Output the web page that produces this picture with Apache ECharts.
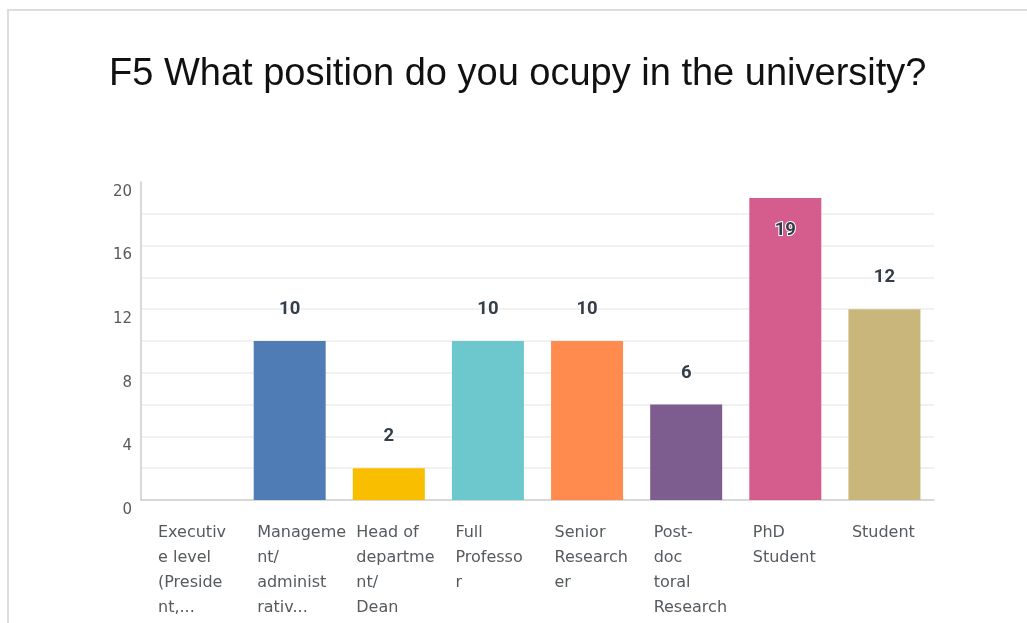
<!DOCTYPE html>
<html>
<head>
<meta charset="utf-8">
<style>
  html, body { margin: 0; padding: 0; background: #fff; }
  #chart { width: 1027px; height: 623px; }
</style>
<script src="https://cdn.jsdelivr.net/npm/echarts@6/dist/echarts.min.js"></script>
</head>
<body>
<div id="chart"></div>
<script>
// Answer options, wrapped the way they appear under each bar
const tickLabels = [
  'Executiv\ne level\n(Preside\nnt,...',
  'Manageme\nnt/\nadminist\nrativ...',
  'Head of\ndepartme\nnt/\nDean',
  'Full\nProfesso\nr',
  'Senior\nResearch\ner',
  'Post-\ndoc\ntoral\nResearch',
  'PhD\nStudent',
  'Student'
];

// Number of respondents per position
const counts = [0, 10, 2, 10, 10, 6, 19, 12];

// One fill per bar
const barColors = ['#00bf6f', '#507cb6', '#f9be00', '#6cc8cc', '#ff8b4f', '#7d5d8f', '#d45d8d', '#c8b67a'];

const titleText = 'F5 What position do you ocupy in the university?';

const labelFont = 'DejaVu Sans';

const chart = echarts.init(document.getElementById('chart'), null, { renderer: 'canvas' });

const seriesData = counts.map((v, i) => {
  const item = { value: v, itemStyle: { color: barColors[i] } };
  // the tallest bar carries its label inside, under the top edge
  if (v > 17) item.label = { position: 'insideTop', distance: 23 };
  return item;
});

chart.setOption({
  animation: false,
  backgroundColor: '#fff',
  graphic: [{
    type: 'rect',
    shape: { x: 8, y: 10, width: 1100, height: 700 },
    style: { fill: 'none', stroke: '#dddddd', lineWidth: 2 },
    silent: true
  }],
  title: {
    text: titleText,
    left: 104,
    top: 51,
    textStyle: {
      fontFamily: 'Liberation Sans',
      fontSize: 38,
      fontWeight: 'normal',
      color: '#111'
    }
  },
  grid: { left: 141, right: 93, top: 182, bottom: 123, containLabel: false },
  xAxis: [{
    type: 'category',
    data: tickLabels,
    axisLine: { show: true, lineStyle: { color: '#cccccc', width: 1.5 } },
    axisTick: { show: false },
    axisLabel: { show: false },
    splitLine: { show: false }
  }, {
    // carries the option names, left-aligned from each category's start
    type: 'value',
    min: 0,
    max: 8,
    interval: 1,
    position: 'bottom',
    axisLine: { show: false },
    axisTick: { show: false },
    splitLine: { show: false },
    axisLabel: {
      show: true,
      showMaxLabel: true,
      margin: 20,
      align: 'left',
      verticalAlign: 'top',
      padding: [0, 0, 0, 17],
      fontFamily: labelFont,
      fontSize: 16,
      lineHeight: 25,
      color: '#555a5e',
      formatter: v => (v < tickLabels.length ? tickLabels[v] : '')
    }
  }],
  yAxis: {
    type: 'value',
    min: 0,
    max: 20,
    interval: 2,
    axisLine: { show: true, lineStyle: { color: '#cccccc', width: 1.5 } },
    axisTick: { show: false },
    axisLabel: {
      margin: 9,
      fontFamily: labelFont,
      fontSize: 15,
      color: '#555a5e',
      verticalAlign: 'top',
      lineHeight: 20,
      formatter: v => (v % 4 === 0 ? String(v) : '')
    },
    splitLine: {
      show: true,
      lineStyle: {
        color: ['transparent', '#ececec', '#ececec', '#ececec', '#ececec', '#ececec',
                '#ececec', '#ececec', '#ececec', '#ececec', 'transparent'],
        width: 1.5
      }
    }
  },
  series: [{
    type: 'bar',
    xAxisIndex: 0,
    yAxisIndex: 0,
    data: seriesData,
    barWidth: 72,
    label: {
      show: true,
      position: 'top',
      distance: 22,
      fontFamily: 'Roboto',
      fontWeight: 'bold',
      fontSize: 18.5,
      color: '#333e48',
      textBorderColor: '#ffffff',
      textBorderWidth: 2,
      formatter: p => (p.value === 0 ? '' : String(p.value))
    }
  }]
});
</script>
</body>
</html>
